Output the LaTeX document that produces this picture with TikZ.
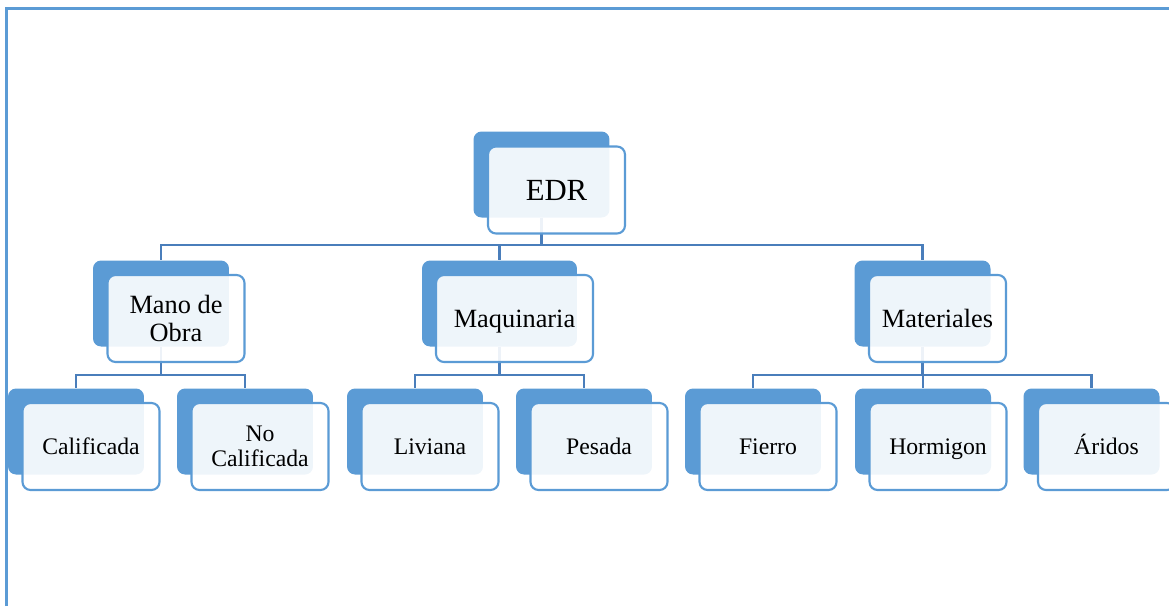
\documentclass[tikz,border=0pt]{standalone}
\usepackage{fontspec}
\setmainfont{Liberation Serif}
\usetikzlibrary{positioning,backgrounds}
\definecolor{smblue}{HTML}{5B9BD5}
\definecolor{linkblue}{HTML}{4A7EBB}
\tikzset{
  backbox/.style={rounded corners=0.16cm, fill=smblue, minimum width=2.72cm, minimum height=1.72cm, inner sep=0pt},
  topbox/.style={rounded corners=0.16cm, draw=smblue, line width=1.2pt, fill=white, fill opacity=0.9, text opacity=1,
    minimum width=2.74cm, minimum height=1.74cm, inner sep=0pt, align=center},
  oneline/.style={text height=#1, text depth=0pt},
  link/.style={draw=linkblue, line width=1.2pt},
  frame/.style={draw=smblue, line width=1.2pt},
  lvla/.style={font=\fontsize{17.5}{18}\selectfont, oneline=11.6pt},
  lvlb/.style={font=\fontsize{15}{15.5}\selectfont},
  lvlc/.style={font=\fontsize{13.5}{14}\selectfont}
}
\begin{document}
\begin{tikzpicture}[x=0.02cm, y=-0.02cm]
  \useasboundingbox (0,0) rectangle (1169,606);
  % page frame
  \draw[frame] (6.5,606) -- (6.5,8.5) -- (1169,8.5);

  % back shapes
  \node[backbox] (edrb) at (541.5,174.5) {};
  \node[backbox] (manob) at (161,303.5) {};
  \node[backbox, minimum width=3.1cm] (maqb) at (499.5,303.5) {};
  \node[backbox] (matb) at (922.5,303.5) {};
  \node[backbox] (calb) at (76,431.5) {};
  \node[backbox] (nocalb) at (245,431.5) {};
  \node[backbox] (livb) at (415,431.5) {};
  \node[backbox] (pesb) at (584,431.5) {};
  \node[backbox] (fieb) at (753,431.5) {};
  \node[backbox] (horb) at (923,431.5) {};
  \node[backbox] (arib) at (1091.5,431.5) {};

  % front shapes with the labels
  \node[topbox, lvla] (edr) at ([shift={(15,15.5)}]edrb) {EDR};
  \node[topbox, lvlb] (mano) at ([shift={(15,15)}]manob) {Mano de\\Obra};
  \node[topbox, lvlb, oneline=9.9pt, minimum width=3.14cm] (maq) at ([shift={(15,15)}]maqb) {Maquinaria};
  \node[topbox, lvlb, oneline=9.9pt] (mat) at ([shift={(15,15)}]matb) {Materiales};
  \node[topbox, lvlc, oneline=8.9pt] (cal) at ([shift={(15,15)}]calb) {Calificada};
  \node[topbox, lvlc] (nocal) at ([shift={(15,15)}]nocalb) {No\\Calificada};
  \node[topbox, lvlc, oneline=8.9pt] (liv) at ([shift={(15,15)}]livb) {Liviana};
  \node[topbox, lvlc, oneline=8.9pt] (pes) at ([shift={(15,15)}]pesb) {Pesada};
  \node[topbox, lvlc, oneline=8.9pt] (fie) at ([shift={(15,15)}]fieb) {Fierro};
  \node[topbox, lvlc, oneline=8.9pt] (hor) at ([shift={(15,15)}]horb) {Hormigon};
  \node[topbox, lvlc, oneline=8.9pt] (ari) at ([shift={(15,15)}]arib) {Áridos};

  % connectors
  \begin{scope}[on background layer]
    \draw[link] (edrb.south) -- ++(0,27.5) -| (manob.north);
    \draw[link] (edrb.south) -- ++(0,27.5) -| (maqb.north);
    \draw[link] (edrb.south) -- ++(0,27.5) -| (matb.north);
    \draw[link] (manob.south) -- ++(0,28.5) -| (calb.north);
    \draw[link] (manob.south) -- ++(0,28.5) -| (nocalb.north);
    \draw[link] (maqb.south) -- ++(0,28.5) -| (livb.north);
    \draw[link] (maqb.south) -- ++(0,28.5) -| (pesb.north);
    \draw[link] (matb.south) -- ++(0,28.5) -| (fieb.north);
    \draw[link] (matb.south) -- ++(0,28.5) -| (horb.north);
    \draw[link] (matb.south) -- ++(0,28.5) -| (arib.north);
  \end{scope}
\end{tikzpicture}
\end{document}
